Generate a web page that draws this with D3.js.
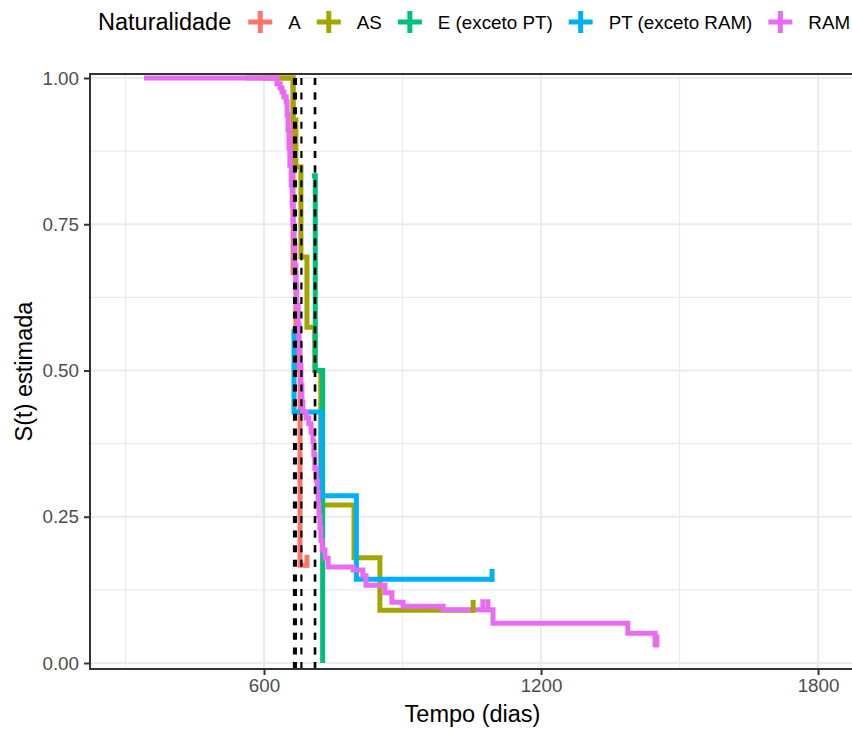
<!DOCTYPE html>
<html lang="pt">

<head>
  <meta charset="utf-8">
  <title>Curvas de sobrevivência por naturalidade</title>
  <script type="text/javascript" src="https://cdn.jsdelivr.net/npm/d3@7"></script>
  <style>
    body { margin: 0; background: #fff; }
    svg text { font-family: "Liberation Sans", Arial, sans-serif; }
  </style>
</head>

<body>
  <svg class="chart"></svg>
  <script type="text/javascript">
    // Groups (legend order)
    var groups = ["A", "AS", "E (exceto PT)", "PT (exceto RAM)", "RAM"];
    var colors = ["#F8766D", "#A3A500", "#00BF7D", "#00B0F6", "#E76BF3"];

    // Kaplan-Meier estimates (time in days, S(t))
    var timeA = [600, 663, 669, 678, 693];
    var survA = [1.000, 0.667, 0.500, 0.167, 0.167];
    var censorA = [693];

    var timeAS = [560, 663, 669, 680, 693, 710, 723, 795, 851, 1053];
    var survAS = [1.000, 0.928, 0.848, 0.694, 0.574, 0.500, 0.270, 0.180, 0.090, 0.090];
    var censorAS = [1053];

    var timeE = [704, 711, 727];
    var survE = [0.833, 0.500, 0.000];
    var censorE = [];

    var timePT = [662, 665, 724, 800, 1094];
    var survPT = [0.571, 0.429, 0.286, 0.143, 0.143];
    var censorPT = [1094];

    var timeRAM = [340, 628, 635, 639, 643, 648, 650, 652, 654, 656, 659, 661, 663, 665, 667, 669,
      671, 674, 676, 678, 680, 682, 684, 691, 697, 702, 706, 708, 710, 713, 715, 717, 719, 721,
      723, 726, 732, 739, 793, 814, 821, 862, 877, 901, 988, 1096, 1388, 1447, 1451];
    var survRAM = [1.000, 0.990, 0.983, 0.976, 0.968, 0.959, 0.937, 0.911, 0.880, 0.851, 0.817,
      0.783, 0.749, 0.715, 0.680, 0.646, 0.612, 0.578, 0.544, 0.509, 0.475, 0.446, 0.429, 0.419,
      0.409, 0.395, 0.378, 0.356, 0.333, 0.313, 0.292, 0.272, 0.251, 0.231, 0.210, 0.193, 0.179,
      0.164, 0.159, 0.149, 0.133, 0.120, 0.104, 0.097, 0.091, 0.068, 0.051, 0.031, 0.031];
    var censorRAM = [1074, 1085, 1451];

    // median survival per group (dashed lines)
    var medians = [669, 710, 711, 665, 681];

    // axis ticks
    var xTicks = [600, 1200, 1800];
    var xMinor = [300, 900, 1500];
    var yTicks = [0, 0.25, 0.5, 0.75, 1];
    var yMinor = [0.125, 0.375, 0.625, 0.875];

    var times = [timeA, timeAS, timeE, timePT, timeRAM];
    var survs = [survA, survAS, survE, survPT, survRAM];
    var censors = [censorA, censorAS, censorE, censorPT, censorRAM];

    // size of the page and of the panel
    var w = 852;
    var h = 729;
    var pLeft = 90, pRight = 855, pTop = 74, pBottom = 669;
    var lineW = 5;

    var svg = d3.select("svg")
      .attr("width", w)
      .attr("height", h);

    var x = d3.scaleLinear()
      .domain([223.1, 1880])
      .range([pLeft, pRight]);

    var y = d3.scaleLinear()
      .domain([-0.01026, 1.00684])
      .range([pBottom, pTop]);

    // clip for the panel
    svg.append("clipPath")
      .attr("id", "panel")
      .append("rect")
      .attr("x", pLeft)
      .attr("y", pTop)
      .attr("width", pRight - pLeft)
      .attr("height", pBottom - pTop);

    // grid lines
    var grid = svg.append("g");
    grid.selectAll(".xminor").data(xMinor).enter().append("line")
      .attr("x1", function(d) { return x(d); })
      .attr("x2", function(d) { return x(d); })
      .attr("y1", pTop).attr("y2", pBottom)
      .attr("stroke", "#EBEBEB").attr("stroke-width", 1.1);
    grid.selectAll(".yminor").data(yMinor).enter().append("line")
      .attr("y1", function(d) { return y(d); })
      .attr("y2", function(d) { return y(d); })
      .attr("x1", pLeft).attr("x2", pRight)
      .attr("stroke", "#EBEBEB").attr("stroke-width", 1.1);
    grid.selectAll(".xmajor").data(xTicks).enter().append("line")
      .attr("x1", function(d) { return x(d); })
      .attr("x2", function(d) { return x(d); })
      .attr("y1", pTop).attr("y2", pBottom)
      .attr("stroke", "#EBEBEB").attr("stroke-width", 2.2);
    grid.selectAll(".ymajor").data(yTicks).enter().append("line")
      .attr("y1", function(d) { return y(d); })
      .attr("y2", function(d) { return y(d); })
      .attr("x1", pLeft).attr("x2", pRight)
      .attr("stroke", "#EBEBEB").attr("stroke-width", 2.2);

    var plot = svg.append("g").attr("clip-path", "url(#panel)");

    // survival step curves
    var line = d3.line()
      .curve(d3.curveStepAfter)
      .x(function(d) { return x(d.t); })
      .y(function(d) { return y(d.s); });

    var series = groups.map(function(g, i) {
      var pts = [];
      for (var k = 0; k < times[i].length; k++) {
        pts.push({ t: times[i][k], s: survs[i][k] });
      }
      return { name: g, color: colors[i], points: pts, censor: censors[i] };
    });

    plot.selectAll(".curve")
      .data(series)
      .enter()
      .append("path")
      .attr("class", "curve")
      .attr("d", function(d) { return line(d.points); })
      .attr("fill", "none")
      .attr("stroke", function(d) { return d.color; })
      .attr("stroke-width", lineW);

    // survival value at a given time
    function survAt(pts, t) {
      var s = pts[0].s;
      pts.forEach(function(p) { if (p.t <= t) s = p.s; });
      return s;
    }

    // censoring marks
    series.forEach(function(sr) {
      plot.selectAll(null)
        .data(sr.censor)
        .enter()
        .append("line")
        .attr("x1", function(d) { return x(d); })
        .attr("x2", function(d) { return x(d); })
        .attr("y1", function(d) { return y(survAt(sr.points, d)) + lineW / 2; })
        .attr("y2", function(d) { return y(survAt(sr.points, d)) - 10.5; })
        .attr("stroke", sr.color)
        .attr("stroke-width", lineW);
    });

    // median lines
    plot.selectAll(".median")
      .data(medians)
      .enter()
      .append("line")
      .attr("x1", function(d) { return x(d); })
      .attr("x2", function(d) { return x(d); })
      .attr("y1", pBottom)
      .attr("y2", pTop)
      .attr("stroke", "#000")
      .attr("stroke-width", 2.2)
      .attr("stroke-dasharray", "7,7.6");

    // panel border
    svg.append("rect")
      .attr("x", pLeft)
      .attr("y", pTop)
      .attr("width", pRight - pLeft)
      .attr("height", pBottom - pTop)
      .attr("fill", "none")
      .attr("stroke", "#333333")
      .attr("stroke-width", 2);

    // axes
    var yAxis = d3.axisLeft(y)
      .tickValues(yTicks)
      .tickFormat(d3.format(".2f"))
      .tickSize(6)
      .tickPadding(5);
    var xAxis = d3.axisBottom(x)
      .tickValues(xTicks)
      .tickFormat(d3.format("d"))
      .tickSize(6)
      .tickPadding(4);

    var gy = svg.append("g")
      .attr("transform", "translate(" + pLeft + ",0)")
      .call(yAxis);
    var gx = svg.append("g")
      .attr("transform", "translate(0," + pBottom + ")")
      .call(xAxis);
    [gx, gy].forEach(function(g) {
      g.select(".domain").remove();
      g.selectAll(".tick line").attr("stroke", "#333333").attr("stroke-width", 2);
      g.selectAll(".tick text")
        .attr("fill", "#4D4D4D")
        .style("font-size", "18.8px");
    });

    // axis titles
    svg.append("text")
      .attr("x", (pLeft + pRight) / 2)
      .attr("y", 722)
      .attr("text-anchor", "middle")
      .style("font-size", "23.5px")
      .text("Tempo (dias)");

    svg.append("text")
      .attr("transform", "translate(32," + (pTop + pBottom) / 2 + ") rotate(-90)")
      .attr("text-anchor", "middle")
      .style("font-size", "23.5px")
      .text("S(t) estimada");

    // legend on top
    var legend = svg.append("g");
    var title = legend.append("text")
      .attr("x", 98)
      .attr("y", 30)
      .style("font-size", "23.5px")
      .text("Naturalidade");
    var cx = 98 + title.node().getComputedTextLength() + 29;

    series.forEach(function(sr) {
      legend.append("line")
        .attr("x1", cx - 12).attr("x2", cx + 12)
        .attr("y1", 22).attr("y2", 22)
        .attr("stroke", sr.color).attr("stroke-width", lineW);
      legend.append("line")
        .attr("x1", cx).attr("x2", cx)
        .attr("y1", 11).attr("y2", 33)
        .attr("stroke", sr.color).attr("stroke-width", lineW);
      var lab = legend.append("text")
        .attr("x", cx + 28)
        .attr("y", 29)
        .style("font-size", "18.8px")
        .text(sr.name);
      cx = cx + 28 + lab.node().getComputedTextLength() + 28;
    });
  </script>
</body>

</html>
